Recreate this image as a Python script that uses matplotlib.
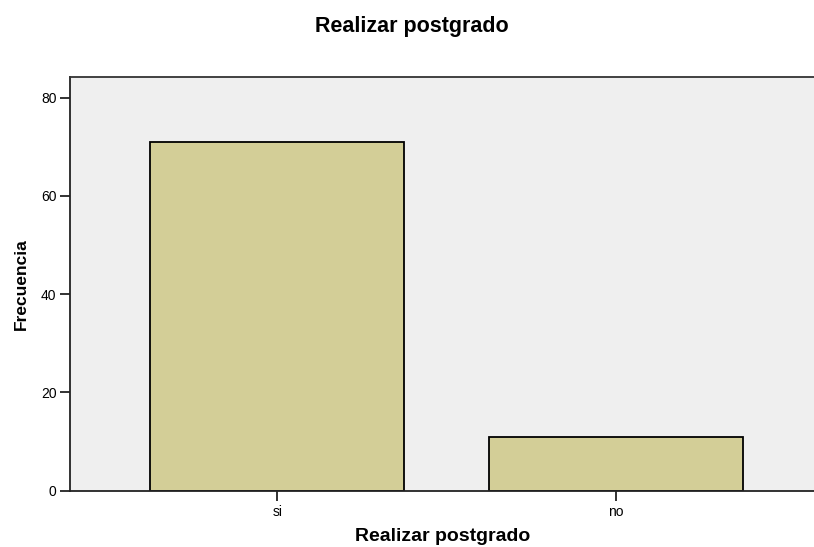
import numpy as np
import matplotlib.pyplot as plt

categories = ['si', 'no']
freq = [71, 11]
yticks = [0, 20, 40, 60, 80]

plt.rcParams['font.family'] = ['Liberation Sans', 'DejaVu Sans']

fig = plt.figure(figsize=(8.14, 5.47), dpi=100)
ax = fig.add_axes([0.0866, 0.1029, 0.9134, 0.7561])
ax.set_facecolor('#efefef')

x = np.arange(len(categories))
ax.bar(x, freq, width=0.75, color='#d3ce97', edgecolor='black', linewidth=1.3, zorder=2)

ax.set_xlim(-0.611, 1.585)
ax.set_ylim(0, 84.2)
ax.set_xticks(x)
ax.set_xticklabels(categories, fontsize=10)
ax.set_yticks(yticks)
ax.set_yticklabels([str(v) for v in yticks], fontsize=10)
ax.tick_params(axis='both', length=7.5, width=1.3, color='#222222', pad=2.5)

for side in ['left', 'bottom']:
    ax.spines[side].set_linewidth(1.3)
    ax.spines[side].set_color('#222222')
ax.spines['top'].set_linewidth(1.3)
ax.spines['top'].set_color('#333333')
ax.spines['right'].set_visible(False)

ax.set_xlabel('Realizar postgrado', fontsize=14, fontweight='bold', labelpad=7)
ax.set_ylabel('Frecuencia', fontsize=12.5, fontweight='bold', labelpad=9)
fig.text(0.506, 0.951, 'Realizar postgrado', ha='center', va='center', fontsize=15.5, fontweight='bold')

fig.savefig('out.png', dpi=100)
